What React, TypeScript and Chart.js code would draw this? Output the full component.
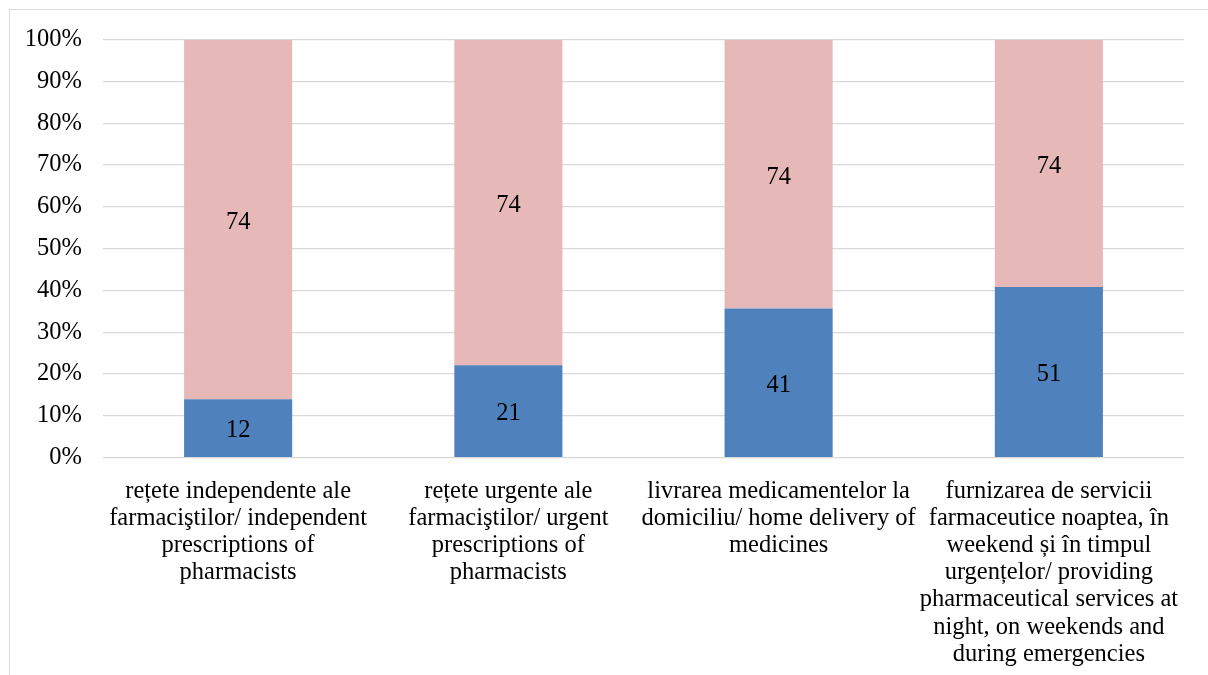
import React, { useEffect, useRef } from "react";
import { Chart, registerables } from "chart.js";

Chart.register(...registerables);

const categories: string[][] = [
  ["rețete independente ale", "farmaciştilor/ independent", "prescriptions of", "pharmacists"],
  ["rețete urgente ale", "farmaciştilor/ urgent", "prescriptions of", "pharmacists"],
  ["livrarea medicamentelor la", "domiciliu/ home delivery of", "medicines"],
  [
    "furnizarea de servicii",
    "farmaceutice noaptea, în",
    "weekend și în timpul",
    "urgențelor/ providing",
    "pharmaceutical services at",
    "night, on weekends and",
    "during emergencies",
  ],
];

const seriesBlue: number[] = [12, 21, 41, 51];
const seriesPink: number[] = [74, 74, 74, 74];
const yTickValues: number[] = [0, 10, 20, 30, 40, 50, 60, 70, 80, 90, 100];

const FONT = '"Liberation Serif", "Times New Roman", serif';
const FS = 24.5;
const FSX = 24.5;

const totals = seriesBlue.map((v, i) => v + seriesPink[i]);
const blueShare = seriesBlue.map((v, i) => (v / totals[i]) * 100);
const pinkShare = seriesPink.map((v, i) => (v / totals[i]) * 100);
const rawValues = [seriesBlue, seriesPink];

const segLabels = {
  id: "segLabels",
  afterDatasetsDraw(chart: any) {
    const ctx = chart.ctx;
    ctx.save();
    ctx.font = `${FS}px ${FONT}`;
    ctx.fillStyle = "#000";
    ctx.textAlign = "center";
    ctx.textBaseline = "middle";
    chart.data.datasets.forEach((_ds: any, i: number) => {
      const meta = chart.getDatasetMeta(i);
      meta.data.forEach((bar: any, j: number) => {
        const p = bar.getProps(["x", "y", "base"], true);
        ctx.fillText(String(rawValues[i][j]), p.x, (p.y + p.base) / 2 + 3);
      });
    });
    ctx.restore();
  },
};

const CANVAS_TOP = 4;
const W = 1200;
const H = 671;

export default function App() {
  const ref = useRef<HTMLCanvasElement | null>(null);

  useEffect(() => {
    if (!ref.current) return;
    const chart = new Chart(ref.current, {
      type: "bar",
      data: {
        labels: categories,
        datasets: [
          {
            label: "A",
            data: blueShare,
            backgroundColor: "#4f81bd",
            barPercentage: 0.4,
            categoryPercentage: 1,
          },
          {
            label: "B",
            data: pinkShare,
            backgroundColor: "#e6b9b8",
            barPercentage: 0.4,
            categoryPercentage: 1,
          },
        ],
      },
      options: {
        responsive: false,
        animation: false,
        layout: { padding: { left: 0, right: 24, top: 15, bottom: 0 } },
        plugins: {
          legend: { display: false },
          tooltip: { enabled: false },
        },
        scales: {
          x: {
            stacked: true,
            grid: { display: false },
            border: { display: false },
            ticks: {
              color: "#000",
              font: { family: FONT, size: FSX, lineHeight: 27.2 / FSX },
              padding: 12,
              maxRotation: 0,
              autoSkip: false,
            },
            afterFit: (s: any) => {
              s.height = H - (457.5 - CANVAS_TOP);
            },
          },
          y: {
            stacked: true,
            min: 0,
            max: 100,
            afterBuildTicks: (s: any) => {
              s.ticks = yTickValues.map((v) => ({ value: v }));
            },
            grid: { color: "#d9d9d9", lineWidth: 1.2, drawTicks: false },
            border: { display: false },
            ticks: {
              color: "#000",
              font: { family: FONT, size: FS },
              padding: 21,
              callback: (v: any) => `${v}%`,
            },
            afterFit: (s: any) => {
              s.width = 95;
            },
          },
        },
      },
      plugins: [segLabels],
    });
    return () => chart.destroy();
  }, []);

  return (
    <div style={{ position: "relative", width: W, height: 667 }}>
      <div
        style={{
          position: "fixed",
          left: 9,
          top: 9,
          width: 1199,
          height: 666,
          borderTop: "1px solid #d9d9d9",
          borderLeft: "1px solid #d9d9d9",
          pointerEvents: "none",
          boxSizing: "border-box",
        }}
      />
      <canvas
        ref={ref}
        width={W}
        height={H}
        style={{ display: "block", position: "absolute", left: 0, top: CANVAS_TOP - 8 }}
      />
    </div>
  );
}
